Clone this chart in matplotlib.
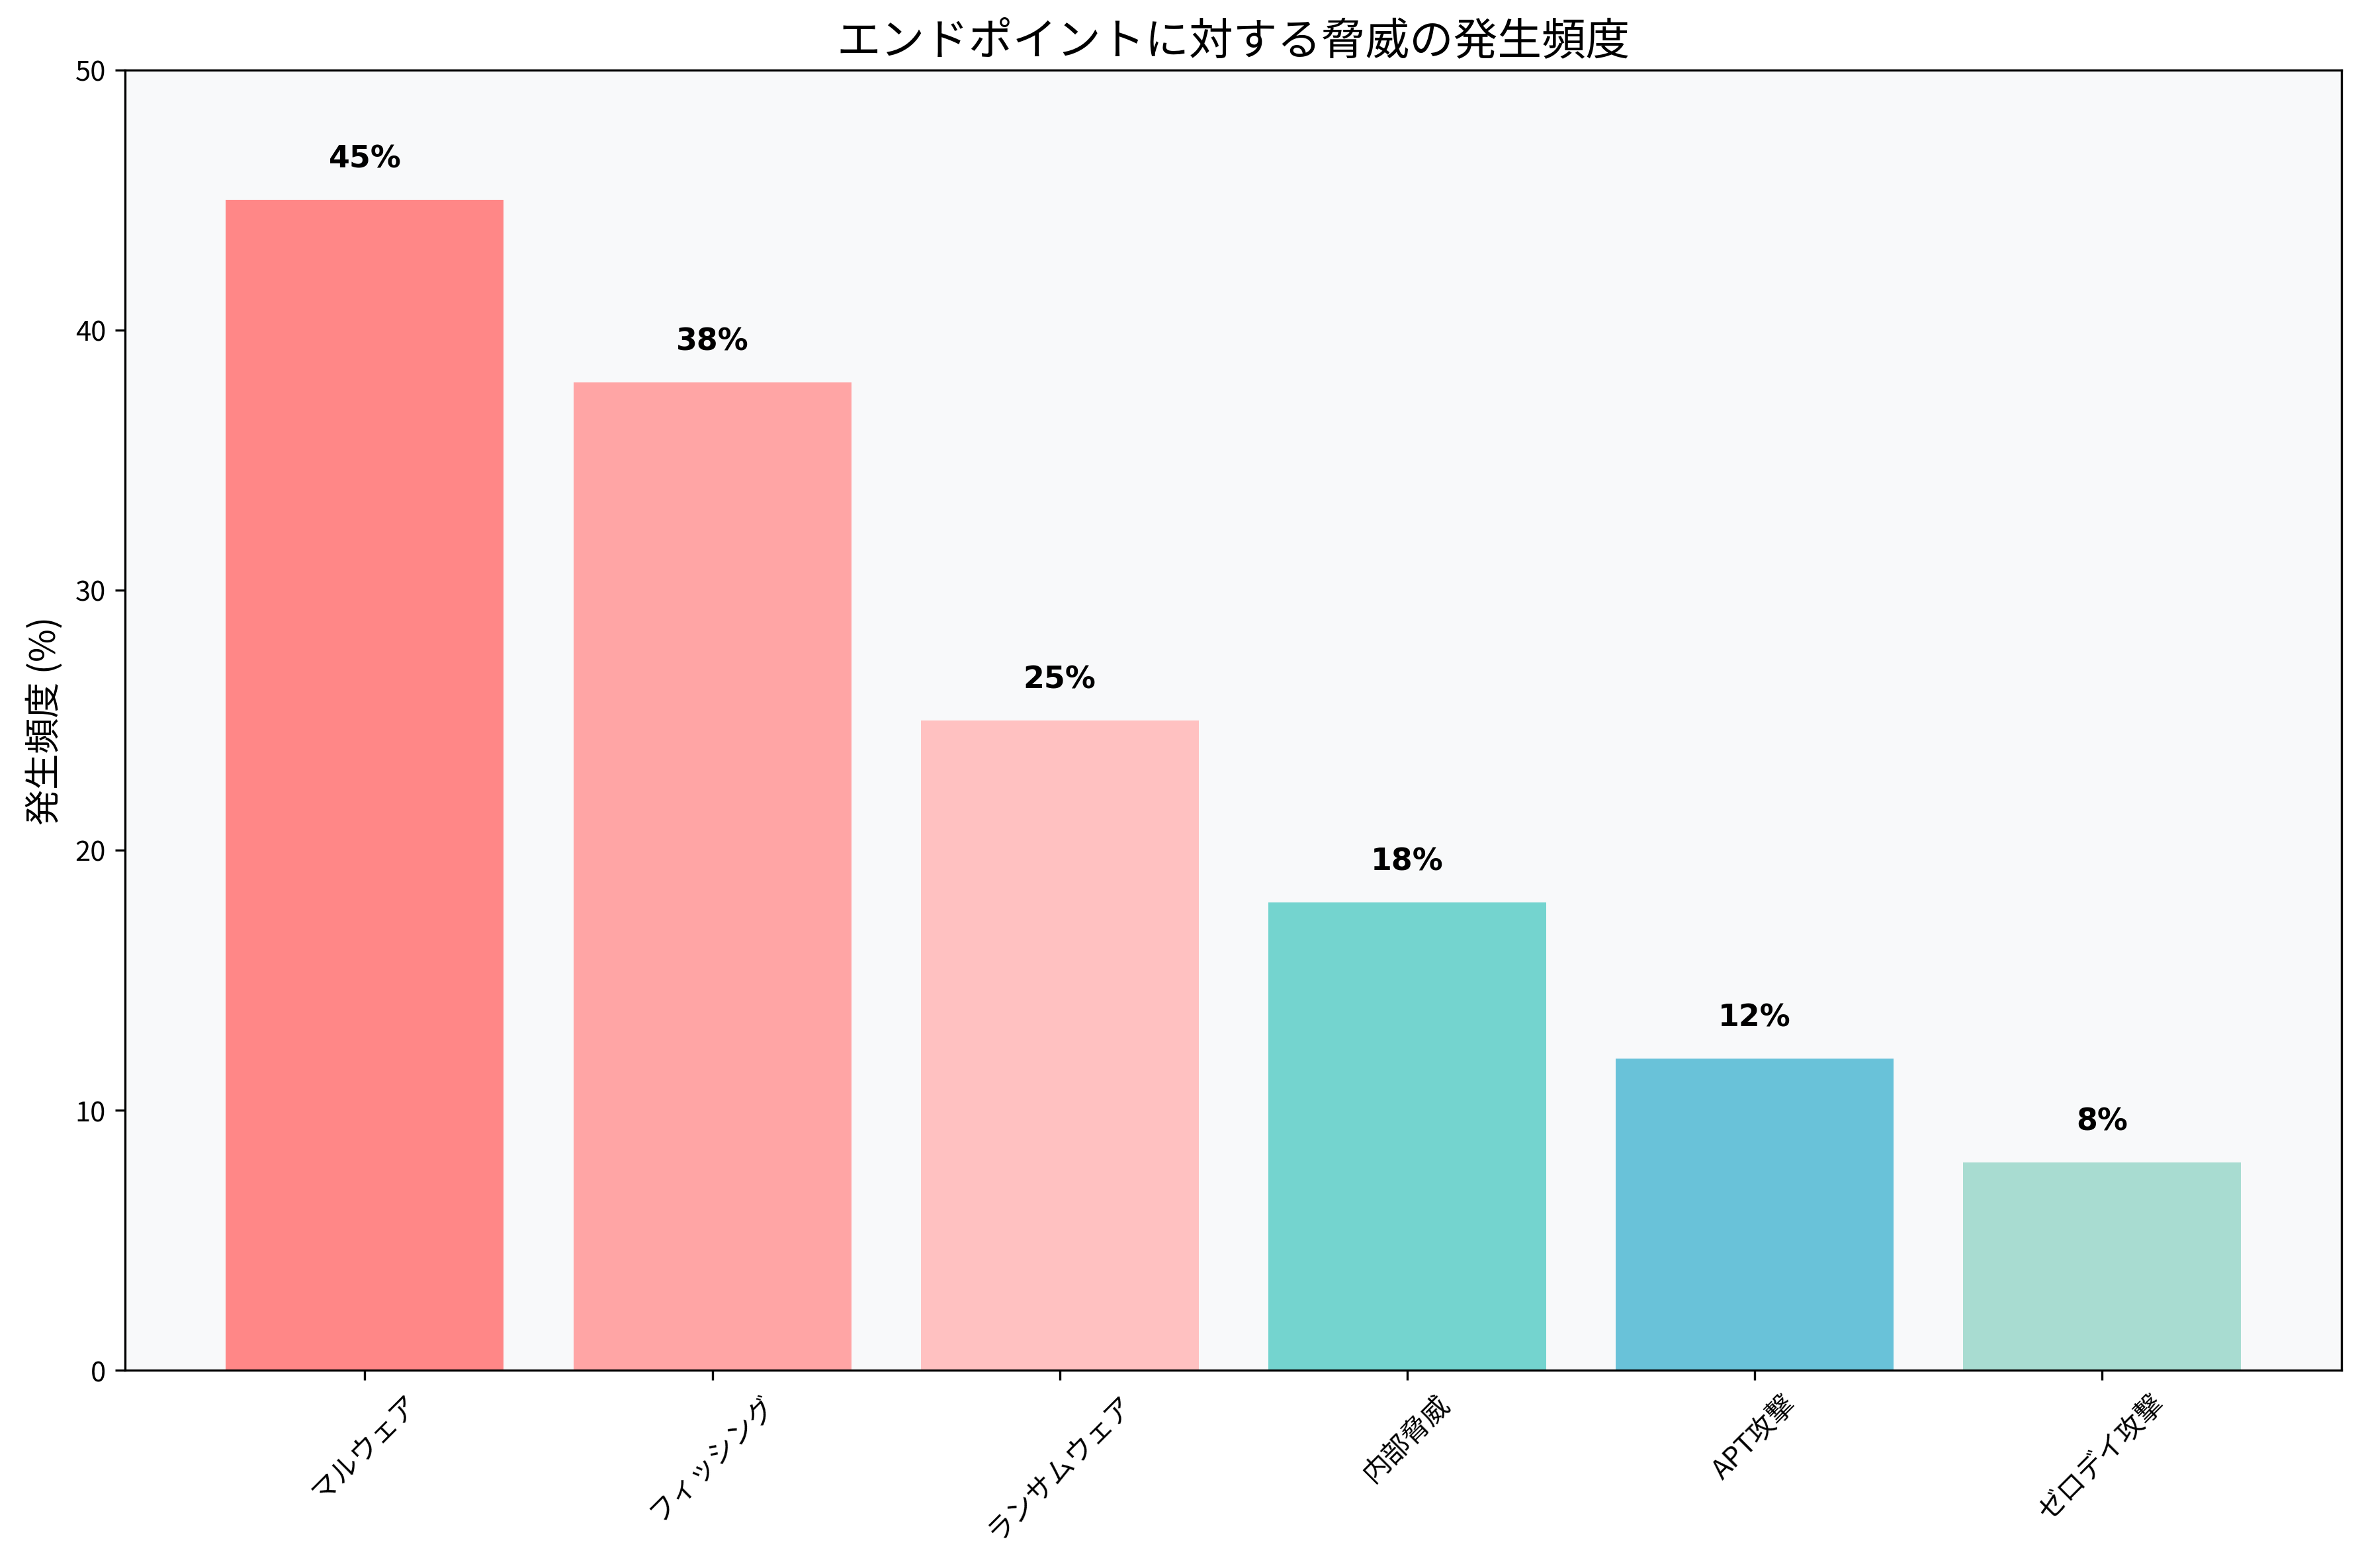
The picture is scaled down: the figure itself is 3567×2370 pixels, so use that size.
import matplotlib
matplotlib.use("Agg")
import matplotlib.pyplot as plt

plt.rcParams['font.family'] = ['Noto Sans CJK JP', 'DejaVu Sans']

categories = ['マルウェア', 'フィッシング', 'ランサムウェア', '内部脅威', 'APT攻撃', 'ゼロデイ攻撃']
values = [45, 38, 25, 18, 12, 8]
colors = ['#FF8787', '#FFA5A5', '#FFC1C1', '#74D4CF', '#69C2D9', '#A8DCD1']

fig = plt.figure(figsize=(11.893, 7.903), dpi=300)
ax = fig.add_axes([0.053, 0.126, 0.939, 0.829])
ax.set_facecolor('#F8F9FA')
bars = ax.bar(categories, values, color=colors, width=0.8)
for b, v in zip(bars, values):
    ax.text(b.get_x() + b.get_width() / 2, v + 1, f'{v}%', ha='center', va='bottom',
            fontsize=11, fontweight='bold', family=['DejaVu Sans'])
ax.set_ylim(0, 50)
ax.set_ylabel('発生頻度 (%)', fontsize=13)
ax.set_title('エンドポイントに対する脅威の発生頻度', fontsize=16)
plt.setp(ax.get_xticklabels(), rotation=45, fontsize=10)
ax.tick_params(axis='y', labelsize=10)
fig.savefig('out.png', dpi=300)
